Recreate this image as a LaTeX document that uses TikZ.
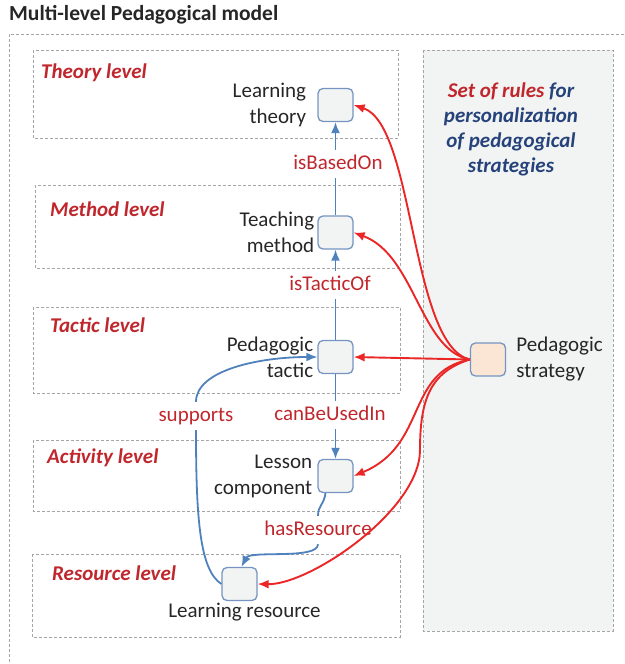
\documentclass[tikz,border=0pt]{standalone}
\usepackage{fontspec}
\setmainfont{Carlito}
\usetikzlibrary{arrows.meta,positioning}
\definecolor{lvlred}{RGB}{192,39,45}
\definecolor{arrred}{RGB}{234,38,38}
\definecolor{linkblue}{RGB}{79,129,189}
\definecolor{boxedge}{RGB}{118,148,194}
\definecolor{boxfill}{RGB}{242,243,243}
\definecolor{peach}{RGB}{251,230,214}
\definecolor{rulesblue}{RGB}{38,66,122}
\definecolor{ink}{RGB}{38,38,38}
\definecolor{dashgray}{RGB}{165,165,165}
\begin{document}
\begin{tikzpicture}[x=1pt, y=-1pt,
    every node/.style={font=\fontsize{21}{26}\selectfont, text=ink},
    level/.style={draw=dashgray, dash pattern=on 3pt off 2pt, line width=0.9pt},
    lvlname/.style={anchor=west, inner sep=0pt, text=lvlred, font=\fontsize{21}{26}\selectfont\bfseries\itshape},
    item/.style={draw=boxedge, fill=boxfill, rounded corners=5pt, minimum width=35pt, minimum height=33pt, line width=1.3pt},
    itemtext/.style={align=right, inner sep=0pt},
    rel/.style={text=lvlred, inner xsep=0pt, inner ysep=5pt, text height=14pt, text depth=4pt},
    link/.style={draw=linkblue, line width=1.8pt},
    linkarr/.style={link, -{Latex[length=11pt,width=9pt]}},
    rulearr/.style={draw=arrred, line width=1.9pt, -{Latex[length=11pt,width=9pt]}}]
    \useasboundingbox (0,0) rectangle (624,664);
    \node[anchor=west, inner sep=0pt, font=\fontsize{21.5}{26}\selectfont\bfseries] (title) at (9,15) {Multi-level Pedagogical model};
    \draw[level] (624,34) -| (9,664);
    \draw[level, fill=boxfill] (423,50) rectangle (613,631);
    \draw[level] (33,50) rectangle (398,138);
    \draw[level] (35,185) rectangle (400,268);
    \draw[level] (33,307) rectangle (400,393);
    \draw[level] (33,440) rectangle (400,511);
    \draw[level] (32,554) rectangle (400,637);
    \node[lvlname] (theorylvl) at (41,73) {Theory level};
    \node[lvlname] (methodlvl) at (50,209) {Method level};
    \node[lvlname] (tacticlvl) at (50,325) {Tactic level};
    \node[lvlname] (activitylvl) at (47,458) {Activity level};
    \node[lvlname] (resourcelvl) at (52,573) {Resource level};
    \node[align=center, inner sep=0pt, text=rulesblue, font=\fontsize{21}{25}\selectfont\bfseries\itshape] (rules) at (511,129.5)
        {\textcolor{lvlred}{Set of rules} for\\personalization\\of pedagogical\\strategies};
    \node[item] (theory) at (335.5,105) {};
    \node[item] (method) at (335.5,232.5) {};
    \node[item] (tactic) at (335.5,357) {};
    \node[item] (lesson) at (335.5,476) {};
    \node[item] (resource) at (239.5,584) {};
    \node[item, fill=peach] (strategy) at (488,359.5) {};
    \node[itemtext, left=11pt of theory] (theorytxt) {Learning\\theory};
    \node[itemtext, left=3pt of method] (methodtxt) {Teaching\\method};
    \node[itemtext, left=4pt of tactic] (tactictxt) {Pedagogic\\tactic};
    \node[itemtext, left=5pt of lesson] (lessontxt) {Lesson\\component};
    \node[inner sep=0pt, below=2pt of resource, xshift=5pt] (resourcetxt) {Learning resource};
    \node[itemtext, align=left, right=10pt of strategy] (strategytxt) {Pedagogic\\strategy};
    \node[rel] (basedon) at (338,164) {isBasedOn};
    \node[rel] (tacticof) at (330,285) {isTacticOf};
    \node[rel] (usedin) at (330,415) {canBeUsedIn};
    \node[rel] (hasres) at (318,530) {hasResource};
    \node[rel] (supports) at (196,416) {supports};
    \draw[link] (method.north) -- (method.north |- basedon.south);
    \draw[linkarr] (method.north |- basedon.north) -- (theory.south);
    \draw[link] (tactic.north) -- (tactic.north |- tacticof.south);
    \draw[linkarr] (tactic.north |- tacticof.north) -- (method.south);
    \draw[link] (tactic.south) -- (tactic.south |- usedin.north);
    \draw[linkarr] (tactic.south |- usedin.south) -- (lesson.north);
    \draw[link] ([xshift=-10pt]lesson.south) .. controls (324,505) and (318,505) .. (hasres.north);
    \draw[linkarr] (hasres.south) .. controls (318,560) and (250,550) .. ([xshift=2pt]resource.north);
    \draw[link] (resource.west) .. controls (200,570) and (196,520) .. (supports.south);
    \draw[linkarr] (supports.north) .. controls (196,370) and (260,357) .. (tactic.west);
    \draw[rulearr] (strategy.west) .. controls (410,345) and (415,125) .. (theory.east);
    \draw[rulearr] (strategy.west) .. controls (420,350) and (415,255) .. (method.east);
    \draw[rulearr] (strategy.west) -- (tactic.east);
    \draw[rulearr] (strategy.west) .. controls (405,372) and (428,445) .. (lesson.east);
    \draw[rulearr] (strategy.west) .. controls (430,372) and (420,400) .. (420,450)
        .. controls (420,510) and (310,585) .. (resource.east);
\end{tikzpicture}
\end{document}
